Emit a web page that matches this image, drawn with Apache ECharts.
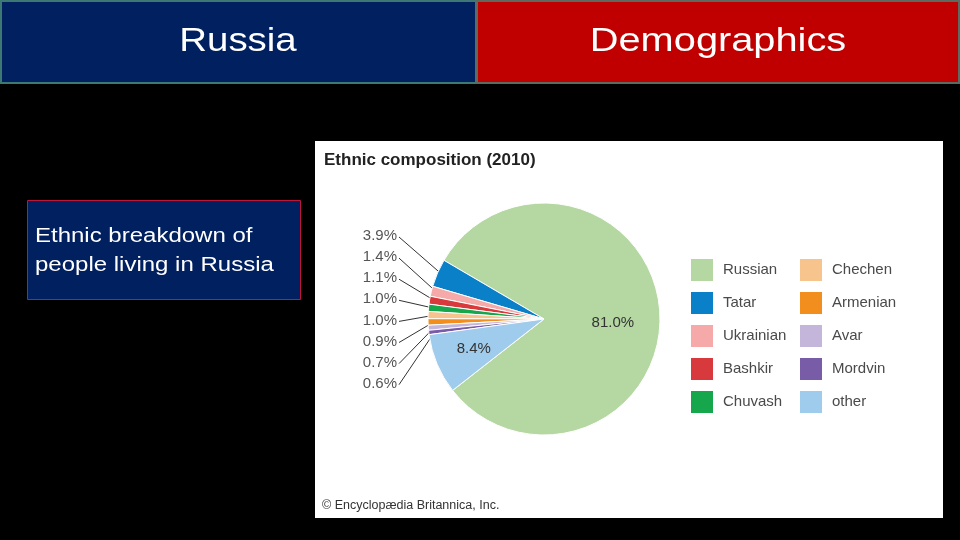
<!DOCTYPE html>
<html>
<head>
<meta charset="utf-8">
<script src="https://cdn.jsdelivr.net/npm/echarts@6/dist/echarts.min.js"></script>
<style>
html,body{margin:0;padding:0;background:#000;}
#main{width:960px;height:540px;}
</style>
</head>
<body>
<div id="main"></div>
<script>
var categories = ['Russian','Tatar','Ukrainian','Bashkir','Chuvash','Chechen','Armenian','Avar','Mordvin','other'];
var shares = [81.0, 3.9, 1.4, 1.1, 1.0, 1.0, 0.9, 0.7, 0.6, 8.4];
var sliceColors = ['#b5d8a2','#0a80c8','#f5aaa9','#d8393c','#16a64b','#f8c48d','#f28e1e','#c4b6db','#795ca8','#9fcbec'];
var chartTitle = 'Ethnic composition (2010)';
var credit = '\u00a9 Encyclop\u00e6dia Britannica, Inc.';
var headerLeft = 'Russia';
var headerRight = 'Demographics';
var noteText = 'Ethnic breakdown of\npeople living in Russia';

var FONT = '"Liberation Sans", Arial, Helvetica, sans-serif';
var CX = 544, CY = 319, R = 116;

var chart = echarts.init(document.getElementById('main'), null, {renderer:'canvas'});

var pieData = categories.map(function(name, i){
  var d = {name:name, value:shares[i], itemStyle:{color:sliceColors[i]}};
  if (i === 0 || i === categories.length - 1) {
    d.label = {position:'inside', fontSize:15, color:'#333'};
    d.labelLine = {show:false};
    if (i === categories.length - 1) d.label.offset = [-14, 6];
    else d.label.offset = [8, 8];
  }
  return d;
});

var legendText = {fontSize:15, color:'#4a4a4a', fontFamily:FONT, padding:[0,0,0,4]};

var option = {
  backgroundColor:'#000',
  animation:false,
  graphic:[
    {type:'rect', z:-10, shape:{x:1, y:1, width:475, height:82}, style:{fill:'#002060', stroke:'#3d7873', lineWidth:2}},
    {type:'rect', z:-10, shape:{x:477, y:1, width:482, height:82}, style:{fill:'#c00000', stroke:'#5b6b60', lineWidth:2}},
    {type:'text', z:-5, x:238, y:42, scaleX:1.13, style:{text:headerLeft, fill:'#fff', font:'34px ' + FONT, align:'center', verticalAlign:'middle'}},
    {type:'text', z:-5, x:718, y:42, scaleX:1.17, style:{text:headerRight, fill:'#fff', font:'34px ' + FONT, align:'center', verticalAlign:'middle'}},
    {type:'rect', z:-10, shape:{x:27.5, y:200.5, width:273, height:99}, style:{fill:'#002060', stroke:'#c0143c', lineWidth:1}},
    {type:'text', z:-5, x:35, y:251, scaleX:1.2, style:{text:noteText, fill:'#fff', font:'20px ' + FONT, lineHeight:29, align:'left', verticalAlign:'middle'}},
    {type:'rect', z:-10, shape:{x:315, y:141, width:628, height:377}, style:{fill:'#fff'}},
    {type:'text', z:-5, x:324, y:160, style:{text:chartTitle, fill:'#222', font:'bold 17px ' + FONT, align:'left', verticalAlign:'middle'}},
    {type:'text', z:-5, x:322, y:506, style:{text:credit, fill:'#333', font:'12.5px ' + FONT, align:'left', verticalAlign:'middle'}}
  ],
  legend:[
    {orient:'vertical', left:689, top:257, padding:0, itemWidth:24, itemHeight:24, itemGap:7, icon:'rect',
     data:categories.slice(0,5), selectedMode:false, textStyle:legendText},
    {orient:'vertical', left:798, top:257, padding:0, itemWidth:24, itemHeight:24, itemGap:7, icon:'rect',
     data:categories.slice(5), selectedMode:false, textStyle:legendText}
  ],
  series:[{
    type:'pie',
    center:[CX, CY],
    radius:R,
    clockwise:false,
    startAngle:218,
    avoidLabelOverlap:false,
    itemStyle:{borderColor:'#fff', borderWidth:1},
    label:{show:true, position:'outside', fontSize:15, color:'#555', fontFamily:FONT,
      formatter:function(p){ return p.value.toFixed(1) + '%'; }},
    labelLine:{show:true, length:10, length2:10, lineStyle:{color:'#333', width:1}},
    labelLayout:function(params){
      var i = params.dataIndex;
      if (i === 0 || i === categories.length - 1) return {};
      var slot = i - 1;
      var y = 236 + slot * 21.1;
      var pts = params.labelLinePoints;
      var p0 = pts ? pts[0] : [CX - R, CY];
      var dx = p0[0] - CX, dy = p0[1] - CY, len = Math.sqrt(dx*dx + dy*dy) || 1;
      var inner = [p0[0] - dx/len*6, p0[1] - dy/len*6];
      return {x:397, y:y, align:'right', verticalAlign:'middle',
        labelLinePoints:[inner, [399, y + 1], [399, y + 1]]};
    },
    data:pieData
  }]
};
chart.setOption(option);
</script>
</body>
</html>
